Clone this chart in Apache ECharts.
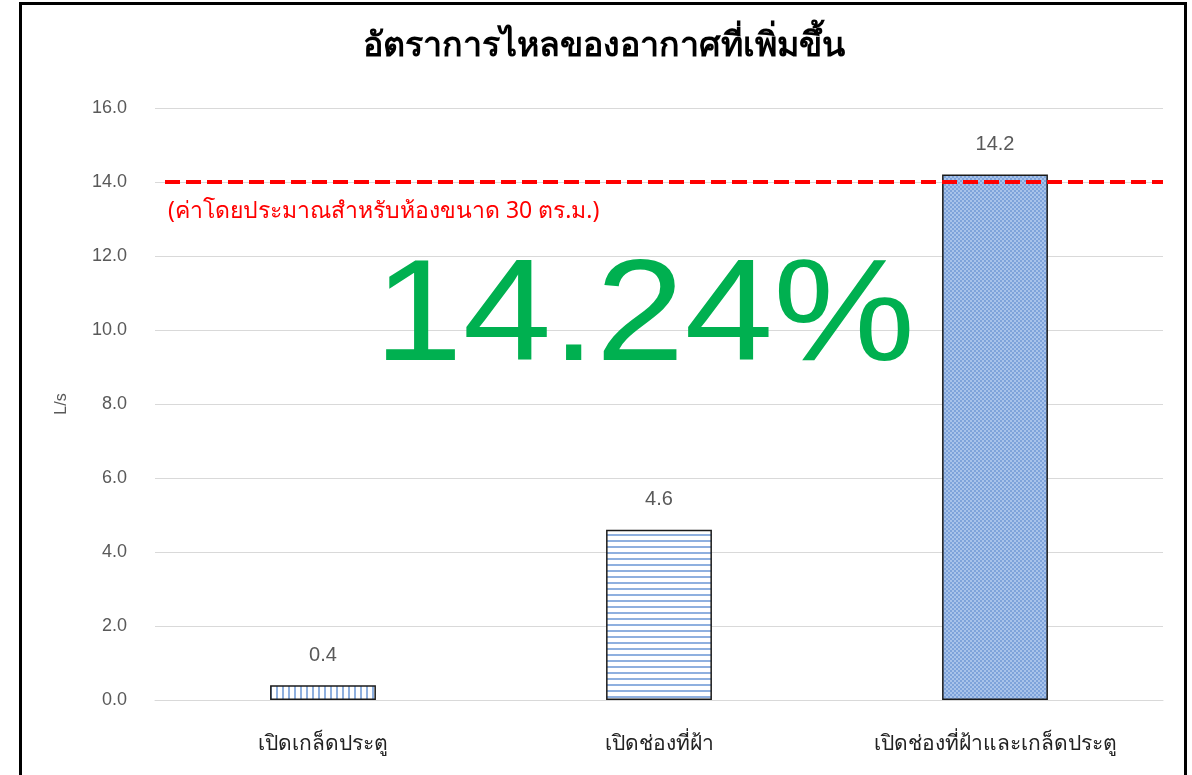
<!DOCTYPE html>
<html>
<head>
<meta charset="utf-8">
<script src="https://cdn.jsdelivr.net/npm/echarts@6/dist/echarts.min.js"></script>
<style>
  html, body { margin: 0; padding: 0; background: #fff; }
  #frame { position: absolute; left: 19px; top: 2px; width: 1168px; height: 790px; border: 3px solid #000; box-sizing: border-box; }
  #chart { position: absolute; left: 0; top: 0; width: 1192px; height: 775px; }
</style>
</head>
<body>
<div id="chart"></div>
<div id="frame"></div>
<script>
// Data
const categories = ['เปิดเกล็ดประตู', 'เปิดช่องที่ฝ้า', 'เปิดช่องที่ฝ้าและเกล็ดประตู'];
const airflow = [0.4, 4.6, 14.2];
const referenceValue = 14.0;
const referenceLabel = '(ค่าโดยประมาณสำหรับห้องขนาด 30 ตร.ม.)';
const increaseText = '14.24%';
const titleText = 'อัตราการไหลของอากาศที่เพิ่มขึ้น';

// Fill patterns for the bars
function makePattern(kind) {
  const c = document.createElement('canvas');
  const ctx = c.getContext('2d');
  if (kind === 'vertical') {
    c.width = 6; c.height = 6;
    ctx.fillStyle = '#ffffff'; ctx.fillRect(0, 0, 6, 6);
    ctx.fillStyle = '#8fb0df'; ctx.fillRect(0, 0, 2, 6);
  } else if (kind === 'horizontal') {
    c.width = 6; c.height = 6;
    ctx.fillStyle = '#ffffff'; ctx.fillRect(0, 0, 6, 6);
    ctx.fillStyle = '#8fb0df'; ctx.fillRect(0, 0, 6, 2);
  } else {
    c.width = 4; c.height = 4;
    ctx.fillStyle = '#a8c3ea'; ctx.fillRect(0, 0, 4, 4);
    ctx.fillStyle = '#7ea3da';
    ctx.fillRect(0, 0, 2, 2); ctx.fillRect(2, 2, 2, 2);
  }
  return { image: c, repeat: 'repeat' };
}
const patterns = [makePattern('vertical'), makePattern('horizontal'), makePattern('dots')];

const chart = echarts.init(document.getElementById('chart'), null, { renderer: 'canvas' });
chart.setOption({
  animation: false,
  backgroundColor: '#ffffff',
  title: {
    text: titleText,
    left: 358,
    top: 24,
    textStyle: { fontFamily: 'Noto Sans', fontSize: 34, fontWeight: 'bold', color: '#000' }
  },
  grid: { left: 155, right: 29, top: 108, bottom: 75 },
  xAxis: {
    type: 'category',
    data: categories,
    axisLine: { show: true, lineStyle: { color: '#d9d9d9', width: 1 } },
    axisTick: { show: false },
    axisLabel: { color: '#222', fontFamily: 'Noto Sans', fontSize: 21, margin: 34 }
  },
  yAxis: {
    type: 'value',
    min: 0, max: 16, interval: 2,
    name: 'L/s',
    nameLocation: 'middle',
    nameGap: 85,
    nameTextStyle: { color: '#595959', fontFamily: 'Liberation Sans', fontSize: 16 },
    axisLine: { show: false },
    axisTick: { show: false },
    axisLabel: { color: '#595959', fontFamily: 'Liberation Sans', fontSize: 18, margin: 28,
      formatter: v => v.toFixed(1) },
    splitLine: { lineStyle: { color: '#d9d9d9', width: 1 } }
  },
  series: [{
    type: 'bar',
    barWidth: '31.5%',
    data: airflow.map((v, i) => ({ value: v, itemStyle: { color: patterns[i] } })),
    itemStyle: { borderColor: '#1a1a1a', borderWidth: 1.5 },
    label: {
      show: true, position: 'top', distance: 20,
      color: '#595959', fontFamily: 'Liberation Sans', fontSize: 20,
      formatter: p => p.value.toFixed(1)
    },
    z: 2
  }, {
    type: 'line',
    data: [],
    markLine: {
      silent: true,
      symbol: 'none',
      data: [[{ yAxis: referenceValue, x: 165 }, { yAxis: referenceValue, x: 1163 }]],
      lineStyle: { color: '#ff0000', type: [15, 6], width: 4 },
      label: { show: false }
    },
    z: 5
  }],
  graphic: [
    {
      type: 'text', left: 168, top: 200, z: 10,
      style: { text: referenceLabel, fill: '#ff0000', font: '23px "Noto Sans"' }
    },
    {
      type: 'text', x: 374, y: 248, scaleX: 1.1, z: 10,
      style: { text: increaseText, fill: '#00b050', font: '145px "Liberation Sans"' }
    }
  ]
});
</script>
</body>
</html>
